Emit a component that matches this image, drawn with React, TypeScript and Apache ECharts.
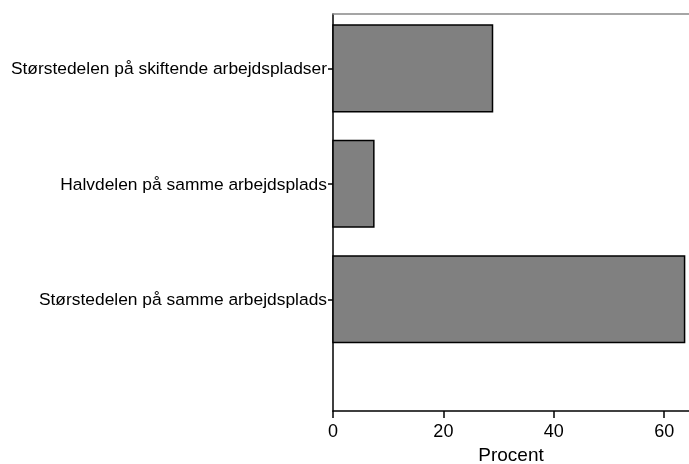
import React, { useEffect, useRef } from "react";
import * as echarts from "echarts";

const categories = [
  "Størstedelen på samme arbejdsplads",
  "Halvdelen på samme arbejdsplads",
  "Størstedelen på skiftende arbejdspladser",
];
const values = [63.7, 7.4, 28.9];
const xTicks = [0, 20, 40, 60];
const yIndices = [0, 1, 2];

export default function App() {
  const ref = useRef<HTMLDivElement>(null);
  useEffect(() => {
    if (!ref.current) return;
    const chart = echarts.init(ref.current, undefined, { renderer: "svg" });
    const font = "'Liberation Sans', Arial, sans-serif";
    chart.setOption({
      animation: false,
      textStyle: { fontFamily: font },
      grid: { left: 333, right: 0, top: 14, bottom: 53, containLabel: false, outerBoundsMode: "none" },
      xAxis: [
        {
          type: "value",
          min: 0,
          max: 64.5,
          position: "bottom",
          name: "Procent",
          nameLocation: "middle",
          nameGap: 33,
          nameTextStyle: { fontSize: 19, color: "#000", fontFamily: font },
          axisLine: { show: true, onZero: false, lineStyle: { color: "#000", width: 1.5 } },
          axisTick: { show: true, length: 7, customValues: xTicks, lineStyle: { color: "#000", width: 1.5 } },
          axisLabel: { customValues: xTicks, fontSize: 18, color: "#000", margin: 11, fontFamily: font },
          splitLine: { show: false },
        },
        {
          type: "value",
          min: 0,
          max: 64.5,
          position: "top",
          axisLine: { show: true, onZero: false, lineStyle: { color: "#888", width: 1.5 } },
          axisTick: { show: false },
          axisLabel: { show: false },
          splitLine: { show: false },
        },
      ],
      yAxis: {
        type: "value",
        min: -0.968,
        max: 2.471,
        axisLine: { show: true, onZero: false, lineStyle: { color: "#000", width: 1.5 } },
        axisTick: { show: true, length: 5, inside: false, customValues: yIndices, lineStyle: { color: "#000", width: 1.5 } },
        axisLabel: {
          customValues: yIndices,
          formatter: (v: number) => categories[Math.round(v)] ?? "",
          fontSize: 17.4,
          color: "#000",
          margin: 6,
          fontFamily: font,
        },
        splitLine: { show: false },
      },
      series: [
        {
          type: "custom",
          xAxisIndex: 0,
          encode: { x: 0, y: 1 },
          data: values.map((v, i) => [v, i]),
          renderItem: (params: any, api: any) => {
            const v = api.value(0);
            const idx = api.value(1);
            const start = api.coord([0, idx]);
            const end = api.coord([v, idx]);
            const h = api.size([0, 0.75])[1];
            return {
              type: "rect",
              shape: { x: start[0], y: start[1] - h / 2, width: end[0] - start[0], height: h },
              style: { fill: "#808080", stroke: "#000", lineWidth: 1.5 },
            };
          },
        },
      ],
    });
    return () => chart.dispose();
  }, []);
  return <div ref={ref} style={{ position: "fixed", left: 0, top: 0, width: 689, height: 464 }} />;
}
